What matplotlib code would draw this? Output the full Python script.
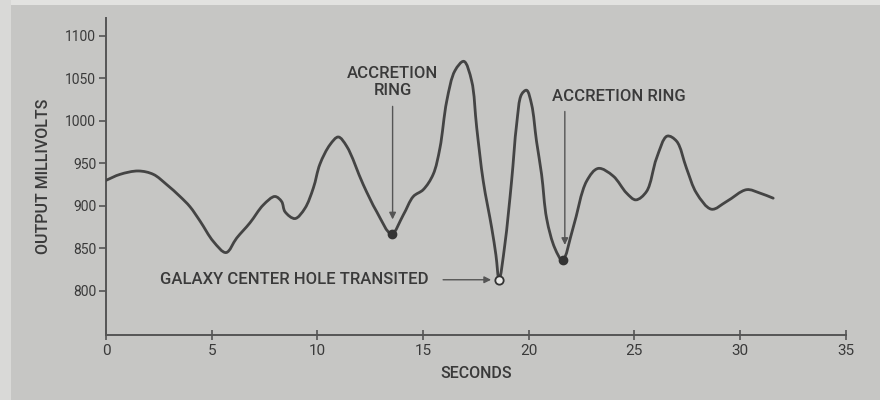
import matplotlib
matplotlib.use("Agg")
import matplotlib.pyplot as plt
import numpy as np
from matplotlib.path import Path
from matplotlib.patches import PathPatch, Rectangle

plt.rcParams['font.family'] = ['Roboto', 'DejaVu Sans']

# Detector output over time
seconds = [0.0, 0.66, 1.53, 2.24, 2.87, 3.50, 3.97, 4.45, 5.08, 5.68,
           6.18, 6.81, 7.44, 7.99, 8.31, 8.47, 8.94, 9.41, 9.81, 10.12,
           10.60, 10.99, 11.39, 12.17, 12.81, 13.51, 14.06, 14.54, 15.01,
           15.48, 15.80, 16.12, 16.51, 16.93, 17.30, 17.54, 17.85, 18.25, 18.45,
           18.60, 18.87, 19.19, 19.43, 19.66, 19.90, 20.14, 20.37, 20.61, 20.85,
           21.24, 21.60, 22.10, 22.74, 23.29, 24.00, 24.63, 25.07, 25.58, 26.05,
           26.55, 27.00, 27.47, 27.94, 28.65, 29.36, 30.31, 30.94, 31.57]
millivolts = [930, 937, 941, 937, 925, 911, 899, 882, 858, 845,
              862, 880, 901, 911, 905, 893, 885, 897, 921, 949,
              972, 981, 970, 925, 893, 867, 889, 911, 919,
              937, 968, 1023, 1059, 1070, 1047, 992, 929, 874, 842,
              813, 854, 929, 996, 1031, 1036, 1019, 976, 937, 885,
              850, 836, 874, 929, 944, 935, 915, 907, 917, 956,
              982, 976, 944, 915, 896, 905, 919, 915, 909]

# Marked events
ring_times = [13.51, 21.60]
ring_values = [867, 836]
hole_time = 18.60
hole_value = 813

x_ticks = [0, 5, 10, 15, 20, 25, 30, 35]
y_ticks = [800, 850, 900, 950, 1000, 1050, 1100]

bg = '#c6c6c4'
ink = '#3a3a3a'

fig = plt.figure(figsize=(8.8, 4.0), dpi=100, facecolor=bg)
# lighter paper edges
fig.patches.append(Rectangle((0, 0.988), 1, 0.012, transform=fig.transFigure,
                             facecolor='#e2e2e0', edgecolor='none', zorder=0))
fig.patches.append(Rectangle((0, 0), 0.012, 1, transform=fig.transFigure,
                             facecolor='#d9d9d7', edgecolor='none', zorder=0))

ax = fig.add_axes([0.1205, 0.1625, 0.8405, 0.7925])
ax.set_facecolor(bg)
ax.set_xlim(0, 35)
ax.set_ylim(748, 1121)


def smooth_path(xs, ys, sx, sy):
    """Centripetal Catmull-Rom through the points, returned as a Bezier Path.
    sx, sy scale data units to roughly equal screen units for the knot spacing."""
    p = np.column_stack([np.asarray(xs) * sx, np.asarray(ys) * sy]).astype(float)
    p = np.vstack([2 * p[0] - p[1], p, 2 * p[-1] - p[-2]])
    verts = [tuple(p[1])]
    codes = [Path.MOVETO]
    for i in range(1, len(p) - 2):
        p0, p1, p2, p3 = p[i - 1], p[i], p[i + 1], p[i + 2]
        d01 = max(np.hypot(*(p1 - p0)) ** 0.5, 1e-6)
        d12 = max(np.hypot(*(p2 - p1)) ** 0.5, 1e-6)
        d23 = max(np.hypot(*(p3 - p2)) ** 0.5, 1e-6)
        m1 = d12 * ((p1 - p0) / d01 - (p2 - p0) / (d01 + d12) + (p2 - p1) / d12)
        m2 = d12 * ((p2 - p1) / d12 - (p3 - p1) / (d12 + d23) + (p3 - p2) / d23)
        verts += [tuple(p1 + m1 / 3), tuple(p2 - m2 / 3), tuple(p2)]
        codes += [Path.CURVE4] * 3
    v = np.array(verts)
    v[:, 0] /= sx
    v[:, 1] /= sy
    return Path(v, codes)


ax.add_patch(PathPatch(smooth_path(seconds, millivolts, 21.14, 0.8467),
                       facecolor='none', edgecolor='#444444', lw=2.0,
                       capstyle='round', joinstyle='round', zorder=3))

ax.plot(ring_times, ring_values, 'o', ms=6, color='#333333', zorder=4)
ax.plot([hole_time], [hole_value], 'o', ms=6, mfc='#e8e8e6', mec='#333333',
        mew=1.3, zorder=4)

arrow = dict(arrowstyle='-|>', color='#555555', lw=1.0, mutation_scale=10,
             shrinkA=0, shrinkB=0)
txt = dict(color=ink, fontsize=12, fontweight='medium')

ax.annotate('', xy=(13.56, 884), xytext=(13.56, 1017), arrowprops=arrow)
ax.text(13.56, 1046, 'ACCRETION\nRING', ha='center', va='center',
        linespacing=1.2, **txt)

ax.annotate('', xy=(21.71, 854), xytext=(21.71, 1011), arrowprops=arrow)
ax.text(21.1, 1029, 'ACCRETION RING', ha='left', va='center', **txt)

ax.annotate('', xy=(18.22, 813), xytext=(15.95, 813), arrowprops=arrow)
ax.text(2.55, 813, 'GALAXY CENTER HOLE TRANSITED', ha='left', va='center', **txt)

for side in ('top', 'right'):
    ax.spines[side].set_visible(False)
for side in ('left', 'bottom'):
    ax.spines[side].set_color('#555555')
    ax.spines[side].set_linewidth(1.4)

ax.set_xticks(x_ticks)
ax.set_yticks(y_ticks)
ax.tick_params(axis='x', direction='inout', length=7, width=1.2, colors='#555555',
               labelcolor=ink, labelsize=11, pad=3)
ax.tick_params(axis='y', direction='out', length=5, width=1.2, colors='#555555',
               labelcolor=ink, labelsize=10, pad=2)

ax.set_xlabel('SECONDS', color=ink, fontsize=11.5, fontweight='medium', labelpad=6)
ax.set_ylabel('OUTPUT MILLIVOLTS', color=ink, fontsize=11.5, fontweight='medium',
              labelpad=10)

fig.savefig('out.png', dpi=100, facecolor=bg)
